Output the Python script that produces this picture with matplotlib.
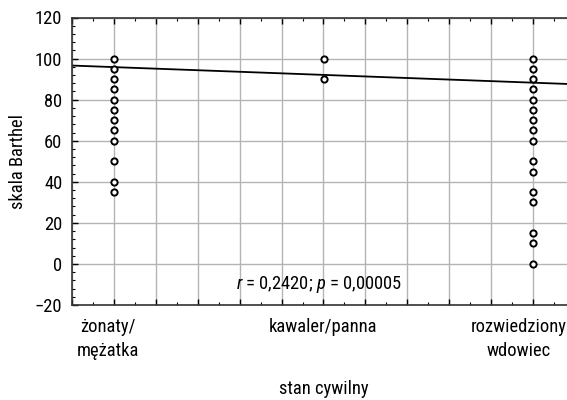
import numpy as np
import matplotlib
matplotlib.use("Agg")
import matplotlib.pyplot as plt
import matplotlib.transforms as mtransforms
from matplotlib.ticker import MultipleLocator, FixedLocator, FixedFormatter

plt.rcParams['font.family'] = ['Roboto Condensed', 'DejaVu Sans']
plt.rcParams['mathtext.fontset'] = 'custom'
plt.rcParams['mathtext.rm'] = 'Roboto Condensed'
plt.rcParams['mathtext.it'] = 'Roboto Condensed:italic'

# data
categories = ['żonaty/\nmężatka', 'kawaler/panna', 'rozwiedziony\nwdowiec']
married = [100, 95, 90, 85, 80, 75, 70, 65, 60, 50, 40, 35]
single = [100, 90]
divorced = [100, 95, 90, 85, 80, 75, 70, 65, 60, 50, 45, 35, 30, 15, 10, 0]
# regression line (end values)
line_x = [0.8, 3.2]
line_y = [96.6, 87.5]
stats_text = r'$\mathit{r}$ = 0,2420; $\mathit{p}$ = 0,00005'

fs = 13.3

fig = plt.figure(figsize=(5.67, 4.0), dpi=100)
# axes runs a bit past the right edge like in the original
ax = fig.add_axes([72/567, 95/400, 503/567, 287.5/400])

groups = [married, single, divorced]
for i, vals in enumerate(groups):
    ax.plot([i + 1] * len(vals), vals, 'o', ms=4.5, mfc='white', mec='black',
            mew=1.4, zorder=3, clip_on=False)

ax.plot(line_x, line_y, color='black', lw=1.3, zorder=2)

ax.text(1.98, -10, stats_text, ha='center', va='center', fontsize=fs)

ax.set_xlim(0.8, 3.2)
ax.set_ylim(-20, 120)

major_x = np.arange(0.8, 3.21, 0.2)
ax.xaxis.set_major_locator(FixedLocator(major_x))
labs = []
for v in major_x:
    k = int(round(v))
    labs.append(categories[k - 1] if abs(v - k) < 1e-6 else '')
ax.xaxis.set_major_formatter(FixedFormatter(labs))
ax.xaxis.set_minor_locator(MultipleLocator(0.1))
ax.yaxis.set_minor_locator(MultipleLocator(4))
ax.set_yticks([-20, 0, 20, 40, 60, 80, 100, 120])
ax.set_yticklabels(['\u221220', '0', '20', '40', '60', '80', '100', '120'])

ax.grid(True, which='major', color='#b4b4b4', lw=1.0)
ax.set_axisbelow(True)

ax.tick_params(which='both', direction='in', top=True, bottom=True, left=True, right=False,
               labelsize=fs, color='black')
ax.tick_params(which='major', length=4, width=1)
ax.tick_params(which='minor', length=2, width=0.8)
ax.tick_params(axis='x', which='major', pad=9)
ax.tick_params(axis='y', which='major', pad=7)

# nudge the category labels a bit left, the last one so it fits in the picture
shifts = {0: -6, 1: 0, 2: -14}
ticks_with_text = [t for t in ax.get_xticklabels() if t.get_text()]
for i, t in enumerate(ticks_with_text):
    t.set_linespacing(1.5)
    off = mtransforms.ScaledTranslation(shifts[i] / 100, 0, fig.dpi_scale_trans)
    t.set_transform(t.get_transform() + off)

for s in ['left', 'bottom', 'top']:
    ax.spines[s].set_color('#333333')
    ax.spines[s].set_linewidth(1.2)
ax.spines['right'].set_visible(False)

ax.set_ylabel('skala Barthel', fontsize=fs, labelpad=5.5)
ax.set_xlabel('stan cywilny', fontsize=fs, labelpad=14)

fig.savefig('out.png', dpi=100)
